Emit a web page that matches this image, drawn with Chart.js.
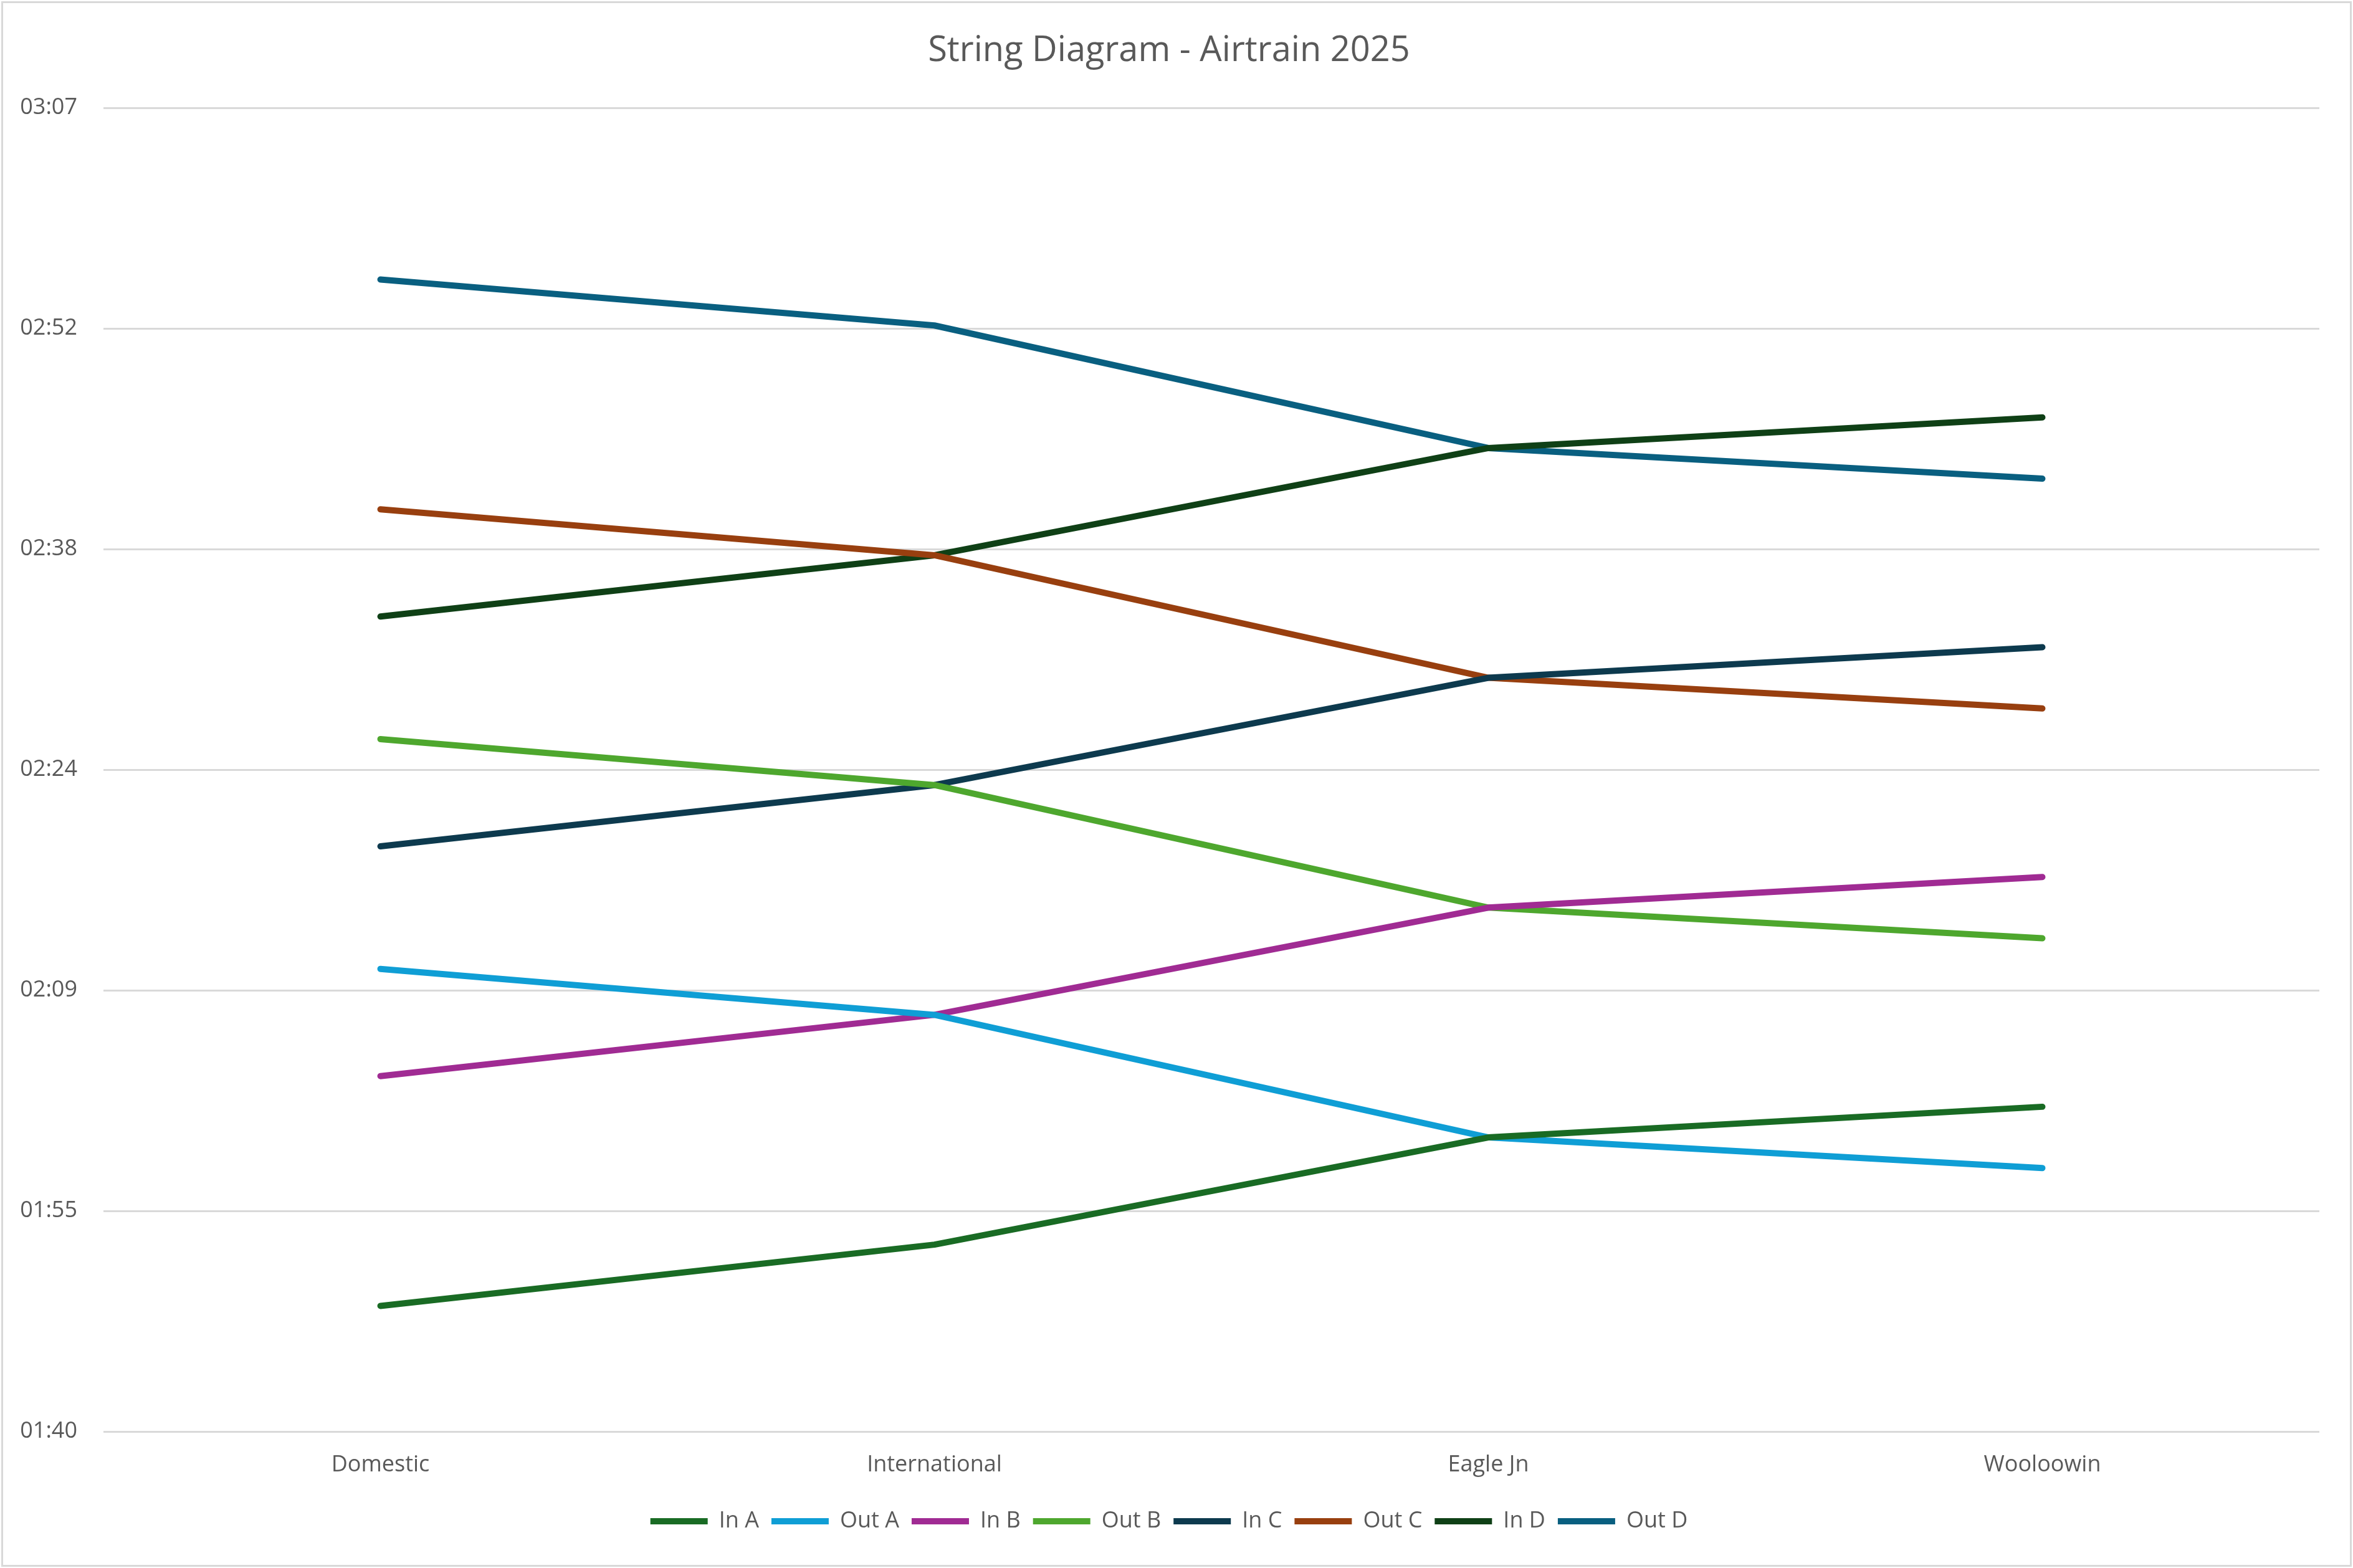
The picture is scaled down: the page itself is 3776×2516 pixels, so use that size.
<!DOCTYPE html>
<html>
<head>
<meta charset="utf-8">
<title>String Diagram - Airtrain 2025</title>
<script src="https://cdn.jsdelivr.net/npm/chart.js@4.4.1/dist/chart.umd.min.js"></script>
<style>
  html, body { margin: 0; padding: 0; background: #fff; }
  #frame {
    position: absolute; left: 2px; top: 2px;
    width: 3772px; height: 2512px;
    box-sizing: border-box;
    border: 3px solid #d9d9d9;
    background: #fff;
  }
  #wrap { position: absolute; left: 0; top: 0; right: 0; bottom: 0; }
</style>
</head>
<body>
<div id="frame"><div id="wrap"><canvas id="stringChart"></canvas></div></div>
<script>
// stations along the line
const stations = ['Domestic', 'International', 'Eagle Jn', 'Wooloowin'];

// times in minutes after midnight
const inA  = [109, 113, 120, 122];
const outA = [131, 128, 120, 118];
const inB  = [124, 128, 135, 137];
const outB = [146, 143, 135, 133];
const inC  = [139, 143, 150, 152];
const outC = [161, 158, 150, 148];
const inD  = [154, 158, 165, 167];
const outD = [176, 173, 165, 163];

// y axis gridlines (Excel steps of 0.01 day = 14.4 min)
const yTicks = [100.8, 115.2, 129.6, 144, 158.4, 172.8, 187.2];

const seriesNames = ['In A', 'Out A', 'In B', 'Out B', 'In C', 'Out C', 'In D', 'Out D'];
const seriesData = [inA, outA, inB, outB, inC, outC, inD, outD];
const seriesColors = ['#196b24', '#0f9ed5', '#a02b93', '#4ea72e', '#0d3a4e', '#983f0f', '#0f4016', '#095f80'];

const font = '"Open Sans", "Liberation Sans", sans-serif';
const grey = '#595959';

function fmtTime(v) {
    const m = Math.floor(v + 0.001);
    const h = Math.floor(m / 60);
    const mm = m % 60;
    return String(h).padStart(2, '0') + ':' + String(mm).padStart(2, '0');
}

const ctx = document.getElementById('stringChart').getContext('2d');

const chart = new Chart(ctx, {
    type: 'line',
    data: {
        labels: stations,
        datasets: seriesNames.map((name, i) => ({
            label: name,
            data: seriesData[i],
            borderColor: seriesColors[i],
            backgroundColor: seriesColors[i],
            borderWidth: 10,
            borderCapStyle: 'round',
            borderJoinStyle: 'round',
            pointRadius: 0,
            pointHoverRadius: 0,
            tension: 0,
            fill: false
        }))
    },
    options: {
        responsive: true,
        maintainAspectRatio: false,
        animation: false,
        devicePixelRatio: 1,
        layout: {
            padding: { top: 43, left: 25, right: 49, bottom: 42 }
        },
        plugins: {
            title: {
                display: true,
                text: 'String Diagram - Airtrain 2025',
                color: grey,
                font: { family: font, size: 56, weight: 'normal' },
                padding: { top: 0, bottom: 58 }
            },
            legend: {
                position: 'bottom',
                labels: {
                    color: grey,
                    font: { family: font, size: 36 },
                    usePointStyle: true,
                    pointStyle: 'line',
                    pointStyleWidth: 92,
                    boxHeight: 36,
                    padding: 20
                }
            },
            tooltip: { enabled: false }
        },
        scales: {
            x: {
                offset: true,
                grid: { display: false, drawTicks: false },
                border: { display: false },
                ticks: {
                    color: grey,
                    font: { family: font, size: 36 },
                    padding: 32
                },
                afterFit: (scale) => { scale.height = 106; }
            },
            y: {
                min: 100.8,
                max: 187.2,
                grid: { color: '#d9d9d9', lineWidth: 3, drawTicks: false },
                border: { display: false },
                ticks: {
                    color: grey,
                    font: { family: font, size: 36 },
                    padding: 42,
                    callback: (v) => fmtTime(v)
                },
                afterBuildTicks: (scale) => {
                    scale.ticks = yTicks.map(v => ({ value: v }));
                },
                afterFit: (scale) => { scale.width = 136; }
            }
        }
    }
});
</script>
</body>
</html>
